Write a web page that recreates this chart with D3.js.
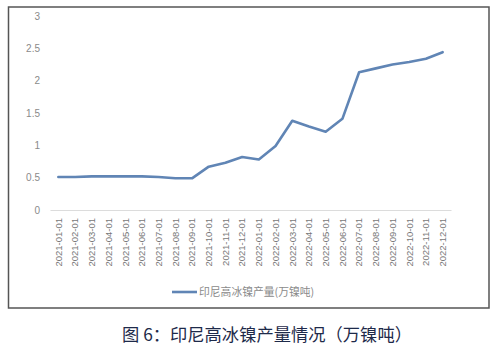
<!DOCTYPE html>
<html>
<head>
<meta charset="utf-8">
<script src="https://cdn.jsdelivr.net/npm/d3@7"></script>
<style>
  body { margin: 0; background: #fff; }
</style>
</head>
<body>
<div id="chart"></div>
<script>
var months = ['2021-01-01','2021-02-01','2021-03-01','2021-04-01','2021-05-01','2021-06-01',
              '2021-07-01','2021-08-01','2021-09-01','2021-10-01','2021-11-01','2021-12-01',
              '2022-01-01','2022-02-01','2022-03-01','2022-04-01','2022-05-01','2022-06-01',
              '2022-07-01','2022-08-01','2022-09-01','2022-10-01','2022-11-01','2022-12-01']
var output = [0.51, 0.51, 0.52, 0.52, 0.52, 0.52, 0.51, 0.49, 0.49, 0.67, 0.73, 0.82,
              0.78, 0.99, 1.38, 1.29, 1.21, 1.41, 2.13, 2.19, 2.25, 2.29, 2.34, 2.44]
var yTicks = [0, 0.5, 1, 1.5, 2, 2.5, 3]
var seriesName = '印尼高冰镍产量(万镍吨)'
var caption = '图 6：印尼高冰镍产量情况（万镍吨）'

var width = 497, height = 345

var svg = d3.select('#chart')
    .append('svg')
    .attr('width', width)
    .attr('height', height)

// outer frame
svg.append('rect')
    .attr('x', 8.5)
    .attr('y', 7)
    .attr('width', 480.5)
    .attr('height', 301)
    .attr('fill', '#fff')
    .attr('stroke', '#555')
    .attr('stroke-width', 1.5)

var x = d3.scaleBand()
    .domain(months)
    .range([50, 451])

var y = d3.scaleLinear()
    .domain([0, 3])
    .range([210, 16])

// y labels (no axis line)
var yAxis = d3.axisLeft(y)
    .tickValues(yTicks)
    .tickFormat(d3.format('~g'))
    .tickSize(0)
    .tickPadding(0)

var gy = svg.append('g')
    .attr('transform', 'translate(40,0)')
    .call(yAxis)
gy.select('.domain').remove()
gy.selectAll('text')
    .attr('fill', '#8a8a8a')
    .style('font-family', 'Liberation Sans, Arial, sans-serif')
    .style('font-size', '10px')

// x axis
var xAxis = d3.axisBottom(x).tickSize(0).tickPadding(0)
var gx = svg.append('g')
    .attr('transform', 'translate(0,' + y(0) + ')')
    .call(xAxis)
gx.select('.domain')
    .attr('stroke', '#dcdcdc')
    .attr('stroke-width', 1.2)
gx.selectAll('text')
    .attr('fill', '#777')
    .style('font-family', 'Liberation Sans, Arial, sans-serif')
    .style('font-size', '9.5px')
    .attr('transform', 'rotate(-90)')
    .attr('text-anchor', 'end')
    .attr('x', -8)
    .attr('y', 0)
    .attr('dy', '0.35em')

var line = d3.line()
    .x(function(d, i) { return x(months[i]) + x.bandwidth() / 2 })
    .y(function(d) { return y(d) })

svg.append('path')
    .datum(output)
    .attr('d', line)
    .attr('fill', 'none')
    .attr('stroke', '#6085b5')
    .attr('stroke-width', 2.6)
    .attr('stroke-linejoin', 'round')
    .attr('stroke-linecap', 'round')

// legend
var lg = svg.append('g').attr('transform', 'translate(172,292)')
lg.append('line')
    .attr('x1', 0).attr('x2', 25)
    .attr('y1', 0).attr('y2', 0)
    .attr('stroke', '#6085b5')
    .attr('stroke-width', 2.6)
lg.append('text')
    .attr('x', 27)
    .attr('y', 0)
    .attr('dy', '0.35em')
    .attr('fill', '#8a8a8a')
    .style('font-family', 'Noto Sans CJK SC, sans-serif')
    .style('font-size', '10.8px')
    .text(seriesName)

// caption
svg.append('text')
    .attr('x', 122)
    .attr('y', 341)
    .attr('fill', '#1e2a4a')
    .style('font-family', 'Noto Sans CJK SC, sans-serif')
    .style('font-size', '17.3px')
    .text(caption)
</script>
</body>
</html>
